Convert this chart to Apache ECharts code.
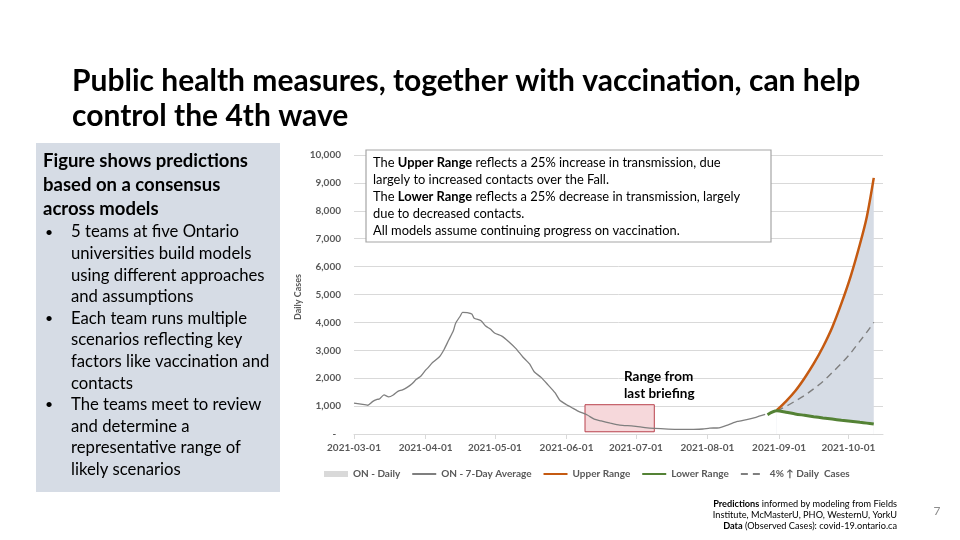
<!DOCTYPE html>
<html><head><meta charset="utf-8">
<script src="https://cdn.jsdelivr.net/npm/echarts@6/dist/echarts.min.js"></script>
<style>html,body{margin:0;padding:0;background:#fff}#c{width:960px;height:540px}</style>
</head><body><div id="c"></div>
<script>
// ---- data ----
const avgDates = ['2021-03-01','2021-03-04','2021-03-07','2021-03-09','2021-03-11','2021-03-12','2021-03-14','2021-03-16','2021-03-18','2021-03-20','2021-03-22','2021-03-24','2021-03-26','2021-03-28','2021-03-30','2021-04-01','2021-04-02','2021-04-04','2021-04-07','2021-04-09','2021-04-11','2021-04-13','2021-04-14','2021-04-16','2021-04-17','2021-04-19','2021-04-21','2021-04-22','2021-04-25','2021-04-27','2021-04-29','2021-05-01','2021-05-04','2021-05-07','2021-05-10','2021-05-13','2021-05-16','2021-05-18','2021-05-21','2021-05-24','2021-05-27','2021-05-29','2021-06-01','2021-06-03','2021-06-06','2021-06-10','2021-06-13','2021-06-16','2021-06-20','2021-06-24','2021-06-30','2021-07-05','2021-07-09','2021-07-15','2021-07-20','2021-07-26','2021-07-30','2021-08-02','2021-08-06','2021-08-10','2021-08-14','2021-08-18','2021-08-22','2021-08-26'];
const avgValues = [1110,1070,1030,1160,1240,1255,1400,1330,1400,1530,1580,1670,1790,1960,2080,2290,2370,2560,2770,3030,3370,3700,3970,4230,4360,4350,4300,4150,4060,3870,3760,3610,3510,3310,3070,2770,2510,2230,2030,1760,1480,1220,1050,960,820,680,530,470,390,320,285,230,200,175,165,168,180,212,222,330,450,515,600,700];
const projDates = ['2021-08-31','2021-09-04','2021-09-08','2021-09-12','2021-09-16','2021-09-20','2021-09-24','2021-09-28','2021-10-02','2021-10-06','2021-10-09','2021-10-12'];
const upperValues = [850,1170,1540,2000,2520,3120,3820,4680,5650,6800,7790,9180];
const lowerValues = [830,780,720,670,620,575,535,495,460,420,390,355];
const lowerStart = ['2021-08-27', 690];
const growthValues = [830,990,1180,1380,1620,1880,2200,2530,2900,3330,3650,4000];
const dailyValues = [];
const xTickLabels = ['2021-03-01','2021-04-01','2021-05-01','2021-06-01','2021-07-01','2021-08-01','2021-09-01','2021-10-01'];
const briefingRange = [['2021-06-09', 80], ['2021-07-09', 1050]];

// ---- helpers ----
const ts = s => new Date(s + 'T00:00:00').getTime();
const pad = n => (n < 10 ? '0' : '') + n;
const fmtDate = v => { const d = new Date(v); return d.getFullYear() + '-' + pad(d.getMonth() + 1) + '-' + pad(d.getDate()); };
const pairs = (dates, vals) => dates.map((d, i) => [ts(d), vals[i]]);

const FONT = 'Lato, "Open Sans", sans-serif';
const GRAY = '#595959';

const chart = echarts.init(document.getElementById('c'), null, { renderer: 'canvas' });

const leftLines = [
  { t: 'Figure shows predictions', b: true },
  { t: 'based on a consensus', b: true },
  { t: 'across models', b: true },
  { t: '5 teams at five Ontario', bullet: true },
  { t: 'universities build models' },
  { t: 'using different approaches' },
  { t: 'and assumptions' },
  { t: 'Each team runs multiple', bullet: true },
  { t: 'scenarios reflecting key' },
  { t: 'factors like vaccination and' },
  { t: 'contacts' },
  { t: 'The teams meet to review', bullet: true },
  { t: 'and determine a' },
  { t: 'representative range of' },
  { t: 'likely scenarios' }
];

const graphics = [];
['Public health measures, together with vaccination, can help', 'control the 4th wave'].forEach((t, i) => {
  graphics.push({ type: 'text', x: 72, y: 81 + i * 35, style: { text: t, font: 'bold 30px ' + FONT, fill: '#000', textVerticalAlign: 'middle' } });
});
graphics.push({ type: 'rect', shape: { x: 36, y: 143, width: 244, height: 349 }, style: { fill: '#d6dce5' } });
leftLines.forEach((l, i) => {
  const y = i < 3 ? 161 + i * 24 : 232 + (i - 3) * 21.6;
  if (l.b) {
    graphics.push({ type: 'text', x: 43, y: y, style: { text: l.t, font: 'bold 18.5px ' + FONT, fill: '#000', textVerticalAlign: 'middle' } });
  } else {
    if (l.bullet) graphics.push({ type: 'text', x: 45, y: y, style: { text: '•', font: '14px ' + FONT, fill: '#000', textVerticalAlign: 'middle' } });
    graphics.push({ type: 'text', x: 71, y: y, style: { text: l.t, font: '16.7px ' + FONT, fill: '#000', textVerticalAlign: 'middle' } });
  }
});
graphics.push({ type: 'rect', shape: { x: 366, y: 150, width: 405, height: 92 }, style: { fill: '#fff', stroke: '#a6a6a6', lineWidth: 1.2 }, z: 10 });
graphics.push({ type: 'text', x: 373, y: 154, z: 11, style: {
  text: 'The {b|Upper Range} reflects a 25% increase in transmission, due\nlargely to increased contacts over the Fall.\nThe {b|Lower Range} reflects a 25% decrease in transmission, largely\ndue to decreased contacts.\nAll models assume continuing progress on vaccination.',
  font: '12.9px ' + FONT, fill: '#000', lineHeight: 17,
  rich: { b: { font: 'bold 12.9px ' + FONT, fill: '#000', lineHeight: 17 } }
} });
graphics.push({ type: 'text', x: 624, y: 368, z: 11, style: { text: 'Range from\nlast briefing', font: 'bold 13.5px ' + FONT, fill: '#000', lineHeight: 17 } });
graphics.push({ type: 'text', x: 298, y: 297, rotation: Math.PI / 2, style: { text: 'Daily Cases', font: 'bold 9px ' + FONT, fill: GRAY, textAlign: 'center', textVerticalAlign: 'middle' } });
graphics.push({ type: 'text', x: 897, y: 504, style: { text: '{b|Predictions} informed by modeling from Fields', font: '9.2px ' + FONT, fill: '#000', textAlign: 'right', textVerticalAlign: 'middle', rich: { b: { font: 'bold 9.2px ' + FONT } } } });
graphics.push({ type: 'text', x: 897, y: 515, style: { text: 'Institute, McMasterU, PHO, WesternU, YorkU', font: '9.2px ' + FONT, fill: '#000', textAlign: 'right', textVerticalAlign: 'middle' } });
graphics.push({ type: 'text', x: 897, y: 526, style: { text: '{b|Data} (Observed Cases): covid-19.ontario.ca', font: '9.2px ' + FONT, fill: '#000', textAlign: 'right', textVerticalAlign: 'middle', rich: { b: { font: 'bold 9.2px ' + FONT } } } });
graphics.push({ type: 'text', x: 937, y: 511, style: { text: '7', font: '12px ' + FONT, fill: '#8c8c8c', textAlign: 'center', textVerticalAlign: 'middle' } });

const noSymbol = { opacity: 0 };

chart.setOption({
  animation: false,
  backgroundColor: '#fff',
  textStyle: { fontFamily: FONT },
  grid: { left: 354, right: 77, top: 155, bottom: 106, containLabel: false },
  legend: {
    left: 319, top: 464, itemWidth: 24, itemHeight: 6, itemGap: 11,
    textStyle: { fontSize: 10, fontWeight: 'bold', color: GRAY, fontFamily: FONT },
    data: [
      { name: 'ON - Daily', icon: 'rect' },
      { name: 'ON - 7-Day Average', itemStyle: noSymbol },
      { name: 'Upper Range', itemStyle: noSymbol },
      { name: 'Lower Range', itemStyle: noSymbol },
      { name: '4% ↑ Daily  Cases', itemStyle: noSymbol }
    ]
  },
  xAxis: {
    type: 'value', z: 10,
    min: ts('2021-03-01'), max: ts('2021-10-16'),
    axisLine: { lineStyle: { color: '#d9d9d9', width: 1 } },
    axisTick: { show: true, length: 5, lineStyle: { color: '#d9d9d9' }, customValues: xTickLabels.map(ts) },
    axisLabel: { customValues: xTickLabels.map(ts), formatter: fmtDate, color: GRAY, fontSize: 10, fontWeight: 'bold', margin: 9, fontFamily: FONT },
    splitLine: { show: false }
  },
  yAxis: {
    type: 'value', min: 0, max: 10000, interval: 1000,
    axisLine: { show: false }, axisTick: { show: false },
    axisLabel: { formatter: v => v === 0 ? '-  ' : v.toLocaleString('en-US'), color: GRAY, fontSize: 10, fontWeight: 'bold', margin: 13, fontFamily: FONT },
    splitLine: { lineStyle: { color: '#d9d9d9', width: 1 } }
  },
  series: [
    { name: 'ON - Daily', type: 'bar', data: dailyValues, itemStyle: { color: '#d9d9d9' } },
    { name: 'bandUpperFill', type: 'line', data: pairs(projDates, upperValues), symbol: 'none', smooth: 0.3,
      lineStyle: { opacity: 0 }, areaStyle: { color: '#d6dce5', opacity: 1 }, silent: true, z: 1 },
    { name: 'bandLowerFill', type: 'line', data: pairs(projDates, lowerValues), symbol: 'none', smooth: 0.3,
      lineStyle: { opacity: 0 }, areaStyle: { color: '#ffffff', opacity: 1 }, silent: true, z: 1 },
    { name: 'ON - 7-Day Average', type: 'line', data: pairs(avgDates, avgValues), symbol: 'none', smooth: 0.2,
      lineStyle: { color: '#7f7f7f', width: 1.3 }, itemStyle: { color: '#7f7f7f' }, z: 3,
      markArea: { silent: true, itemStyle: { color: '#f6d8db', borderColor: '#b8414c', borderWidth: 1 },
        data: [[{ xAxis: ts(briefingRange[0][0]), yAxis: briefingRange[0][1] }, { xAxis: ts(briefingRange[1][0]), yAxis: briefingRange[1][1] }]] } },
    { name: 'Upper Range', type: 'line', data: pairs(projDates, upperValues), symbol: 'none', smooth: 0.3,
      lineStyle: { color: '#c55a11', width: 2.5 }, itemStyle: { color: '#c55a11' }, z: 5 },
    { name: 'Lower Range', type: 'line', data: [[ts(lowerStart[0]), lowerStart[1]]].concat(pairs(projDates, lowerValues)), symbol: 'none', smooth: 0.3,
      lineStyle: { color: '#548235', width: 3 }, itemStyle: { color: '#548235' }, z: 5 },
    { name: '4% ↑ Daily  Cases', type: 'line', data: pairs(projDates, growthValues), symbol: 'none', smooth: 0.3,
      lineStyle: { color: '#7f7f7f', width: 1.4, type: [7, 5] }, itemStyle: { color: '#7f7f7f' }, z: 4 }
  ],
  graphic: graphics
});
</script>
</body></html>
